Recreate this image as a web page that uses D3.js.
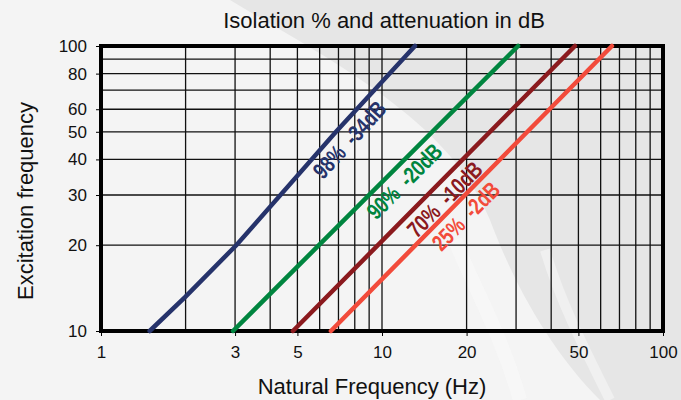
<!DOCTYPE html>
<html>
<head>
<meta charset="utf-8">
<script src="https://cdn.jsdelivr.net/npm/d3@7"></script>
<style>
  body { margin: 0; background: #f4f4f4; }
  svg { display: block; font-family: "Liberation Sans", Arial, sans-serif; }
</style>
</head>
<body>
<div id="chartContainer"></div>
<script>
// Chart size and plot margins
const width = 681;
const height = 400;
const margin = { top: 46, right: 18, bottom: 69, left: 101 };

// Axis ticks and grid values
const xTickValues = [1, 3, 5, 10, 20, 50, 100];
const yTickValues = [10, 20, 30, 40, 50, 60, 80, 100];
const xGridValues = [2, 3, 4, 5, 6, 7, 8, 9, 10, 20, 30, 40, 50, 60, 70, 80, 90];
const yGridValues = [20, 30, 40, 50, 60, 70, 80, 90];

// Isolation lines: natural frequency (x) against excitation frequency (y)
const natural98 = [1.49, 2.0, 3.03, 6.86, 13.1];
const excitation98 = [10, 13.2, 20, 50, 100];
const natural90 = [2.95, 30.5];
const excitation90 = [10, 100];
const natural70 = [4.82, 48.6];
const excitation70 = [10, 100];
const natural25 = [6.58, 65.8];
const excitation25 = [10, 100];

const labels = ["98%  -34dB", "90%  -20dB", "70%  -10dB", "25%  -2dB"];
const labelAt = [51, 36.6, 31.6, 27.6]; // excitation value where each label sits
const colors = ["#26336b", "#00853f", "#8b1a1e", "#f24b3b"];

const series = [
  { xs: natural98, ys: excitation98 },
  { xs: natural90, ys: excitation90 },
  { xs: natural70, ys: excitation70 },
  { xs: natural25, ys: excitation25 }
];

const svg = d3.select("#chartContainer")
  .append("svg")
  .attr("width", width)
  .attr("height", height);

// Background with the soft grey swoosh
svg.append("rect").attr("width", width).attr("height", height).attr("fill", "#f4f4f4");
svg.append("path")
  .attr("d", "M230,0 C330,60 450,120 490,220 C520,300 560,360 600,400 L681,400 L681,0 Z")
  .attr("fill", "#e6e6e6");
svg.append("path")
  .attr("d", "M520,400 C500,330 470,280 455,240")
  .attr("fill", "none").attr("stroke", "#f8f8f8").attr("stroke-width", 14).attr("opacity", 0.8);
svg.append("path")
  .attr("d", "M610,400 C580,340 560,300 545,250")
  .attr("fill", "none").attr("stroke", "#f2f2f2").attr("stroke-width", 10).attr("opacity", 0.8);

const x = d3.scaleLog()
  .domain([1, 100])
  .range([margin.left, width - margin.right]);

const y = d3.scaleLog()
  .domain([10, 100])
  .range([height - margin.bottom, margin.top]);

// Grid lines
svg.append("g")
  .selectAll("line")
  .data(xGridValues)
  .enter()
  .append("line")
  .attr("x1", d => x(d)).attr("x2", d => x(d))
  .attr("y1", y(10)).attr("y2", y(100))
  .attr("stroke", "#111").attr("stroke-width", 1.3);

svg.append("g")
  .selectAll("line")
  .data(yGridValues)
  .enter()
  .append("line")
  .attr("x1", x(1)).attr("x2", x(100))
  .attr("y1", d => y(d)).attr("y2", d => y(d))
  .attr("stroke", "#111").attr("stroke-width", 1.3);

// Axes (ticks and labels)
const xAxis = svg.append("g")
  .attr("transform", `translate(0, ${y(10)})`)
  .call(d3.axisBottom(x).tickValues(xTickValues).tickFormat(d3.format("d")).tickSize(5).tickSizeOuter(0));
xAxis.select(".domain").remove();
xAxis.selectAll("text").attr("font-size", 17).attr("fill", "#111").attr("dy", "1.1em")
  .attr("font-family", "Liberation Sans, Arial, sans-serif");

const yAxis = svg.append("g")
  .attr("transform", `translate(${x(1)}, 0)`)
  .call(d3.axisLeft(y).tickValues(yTickValues).tickFormat(d3.format("d")).tickSize(5).tickSizeOuter(0));
yAxis.select(".domain").remove();
yAxis.selectAll("text").attr("font-size", 17).attr("fill", "#111").attr("x", -14)
  .attr("font-family", "Liberation Sans, Arial, sans-serif");

// Frame
svg.append("rect")
  .attr("x", x(1)).attr("y", y(100))
  .attr("width", x(100) - x(1)).attr("height", y(10) - y(100))
  .attr("fill", "none").attr("stroke", "#000").attr("stroke-width", 4);

// Isolation lines
const line = d3.line().x(d => x(d[0])).y(d => y(d[1]));
svg.selectAll(".iso")
  .data(series)
  .enter()
  .append("path")
  .attr("class", "iso")
  .attr("d", d => line(d.xs.map((v, i) => [v, d.ys[i]])))
  .attr("fill", "none")
  .attr("stroke", (d, i) => colors[i])
  .attr("stroke-width", 4.5)
  .attr("stroke-linecap", "round");

// Labels along each line, just below-right of it (condensed bold)
series.forEach((s, i) => {
  const target = labelAt[i];
  let k = 0;
  while (k < s.ys.length - 2 && s.ys[k + 1] < target) k++;
  const t = (Math.log(target) - Math.log(s.ys[k])) / (Math.log(s.ys[k + 1]) - Math.log(s.ys[k]));
  const nx = Math.exp(Math.log(s.xs[k]) + t * (Math.log(s.xs[k + 1]) - Math.log(s.xs[k])));
  const px = x(nx), py = y(target);
  const dx = x(s.xs[k + 1]) - x(s.xs[k]);
  const dy = y(s.ys[k + 1]) - y(s.ys[k]);
  const angle = Math.atan2(dy, dx) * 180 / Math.PI;
  svg.append("text")
    .attr("transform", `translate(${px}, ${py}) rotate(${angle}) translate(0, 15) scale(0.78, 1)`)
    .attr("text-anchor", "middle")
    .attr("dominant-baseline", "central")
    .style("white-space", "pre")
    .attr("font-weight", "bold")
    .attr("font-size", 23)
    .attr("fill", colors[i])
    .text(labels[i]);
});

// Titles
svg.append("text")
  .attr("x", 384).attr("y", 28)
  .attr("text-anchor", "middle")
  .attr("font-size", 22)
  .attr("fill", "#111")
  .text("Isolation % and attenuation in dB");

svg.append("text")
  .attr("x", 372).attr("y", 394)
  .attr("text-anchor", "middle")
  .attr("font-size", 22)
  .attr("fill", "#111")
  .text("Natural Frequency (Hz)");

svg.append("text")
  .attr("transform", "translate(33, 201) rotate(-90)")
  .attr("text-anchor", "middle")
  .attr("font-size", 22)
  .attr("fill", "#111")
  .text("Excitation frequency");
</script>
</body>
</html>
